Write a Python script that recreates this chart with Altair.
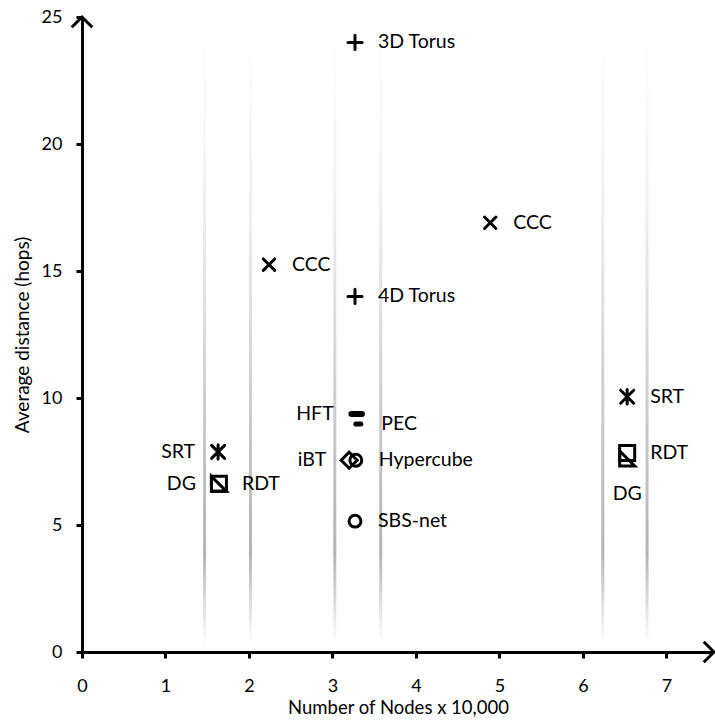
import altair as alt
import pandas as pd

FONT = "Lato"
X_MAX = 7.57
Y_MAX = 25

# Topologies: position, marker kind and which side the name sits on
names = ["3D Torus", "4D Torus", "CCC", "CCC", "HFT", "PEC", "iBT", "Hypercube",
         "SBS-net", "SRT", "RDT", "DG", "SRT", "RDT", "DG"]
nodes = [3.27, 3.27, 2.24, 4.89, 3.29, 3.31, 3.20, 3.28, 3.27, 1.63, 1.64, 1.64, 6.53, 6.53, 6.53]
avg_dist = [24.0, 14.0, 15.25, 16.9, 9.37, 8.98, 7.55, 7.55, 5.15, 7.88, 6.62, 6.62, 10.05, 7.83, 7.62]
kinds = ["plus", "plus", "cross", "cross", "dash", "dash_s", "diamond", "circle",
         "circle", "star", "square", "triangle", "star", "square", "triangle"]
sides = ["right", "right", "right", "right", "left", "right", "left", "right",
         "right", "left", "right", "left", "right", "right", "below"]

# Soft vertical guide stripes
stripe_x = [1.45, 2.0, 3.01, 3.56, 6.22, 6.75]

pts = pd.DataFrame({"x": nodes, "y": avg_dist, "kind": kinds, "name": names, "side": sides})
stripes = pd.DataFrame({"x": stripe_x, "x2": [v + 0.036 for v in stripe_x],
                        "y": [0.3] * len(stripe_x), "y2": [24.2] * len(stripe_x)})
arrows = pd.DataFrame({"x": [0, X_MAX], "y": [Y_MAX, 0], "dir": ["up", "right"]})

axis_common = dict(grid=False, domainColor="black", domainWidth=3, tickColor="black",
                   tickWidth=3, tickSize=6, labelFont=FONT, titleFont=FONT,
                   labelFontSize=18, titleFontWeight="normal", labelFlush=False,
                   labelColor="black", titleColor="black")

X = alt.X("x:Q", scale=alt.Scale(domain=[0, X_MAX], nice=False, zero=False),
          axis=alt.Axis(values=list(range(8)), title="Number of Nodes x 10,000",
                        labelPadding=19, titlePadding=3, titleFontSize=18.5,
                        **axis_common))
Y = alt.Y("y:Q", scale=alt.Scale(domain=[0, Y_MAX], nice=False),
          axis=alt.Axis(values=[0, 5, 10, 15, 20, 25], title="Average distance (hops)",
                        labelPadding=14, titlePadding=9, titleFontSize=19,
                        **axis_common))

grad = alt.Gradient(
    gradient="linear", x1=0, x2=0, y1=0, y2=1,
    stops=[alt.GradientStop(color="#ffffff", offset=0),
           alt.GradientStop(color="#eeeeee", offset=0.3),
           alt.GradientStop(color="#cdcdcd", offset=0.6),
           alt.GradientStop(color="#b3b3b3", offset=0.85),
           alt.GradientStop(color="#ffffff", offset=1)])

stripe_layer = alt.Chart(stripes).mark_rect(color=grad).encode(
    x=X, x2="x2:Q", y=Y, y2="y2:Q")

shapes = {
    "plus": ("M-1,0L1,0M0,-1L0,1", 200, 3),
    "cross": ("M-1,-1L1,1M-1,1L1,-1", 130, 3),
    "star": ("M-1,-1L1,1M-1,1L1,-1M0,-1.1L0,1.1", 170, 3),
    "square": ("M-1,-1L1,-1L1,1L-1,1Z", 225, 3),
    "triangle": ("M-1,-1L-1,1L1,1Z", 225, 3),
    "dash": ("M-1,0L1,0", 110, 6),
    "dash_s": ("M-1,0L1,0", 25, 5),
    "diamond": ("M0,-1L1,0L0,1L-1,0Z", 256, 3),
    "circle": ("circle", 140, 3),
}

marker_layers = []
for k, (path, size, sw) in shapes.items():
    marker_layers.append(
        alt.Chart(pts).transform_filter(alt.datum.kind == k).mark_point(
            shape=path, size=size, filled=False, stroke="black", strokeWidth=sw,
            strokeCap="round", opacity=1).encode(x=X, y=Y))

text_style = dict(font=FONT, fontSize=19.5, color="black", baseline="middle")
label_layers = [
    alt.Chart(pts).transform_filter(alt.datum.side == "right").mark_text(
        align="left", dx=23, **text_style).encode(x=X, y=Y, text="name:N"),
    alt.Chart(pts).transform_filter(alt.datum.side == "left").mark_text(
        align="right", dx=-23, **text_style).encode(x=X, y=Y, text="name:N"),
    alt.Chart(pts).transform_filter(alt.datum.side == "below").mark_text(
        align="center", dy=36, **text_style).encode(x=X, y=Y, text="name:N"),
]

arrow_layers = [
    alt.Chart(arrows).transform_filter(alt.datum.dir == "up").mark_point(
        shape="M-1,1L0,0L1,1", size=420, filled=False, stroke="black",
        strokeWidth=3, opacity=1).encode(x=X, y=Y),
    alt.Chart(arrows).transform_filter(alt.datum.dir == "right").mark_point(
        shape="M-1,-1L0,0L-1,1", size=420, filled=False, stroke="black",
        strokeWidth=3, opacity=1).encode(x=X, y=Y),
]

chart = alt.layer(stripe_layer, *marker_layers, *label_layers, *arrow_layers).properties(
    width=632, height=635,
    autosize=alt.AutoSizeParams(type="none"),
    padding={"left": 82, "top": 17, "right": 1, "bottom": 69},
    background="white",
).configure_view(stroke=None)

chart.save("out.html", embed_options={"renderer": "svg", "actions": False})
